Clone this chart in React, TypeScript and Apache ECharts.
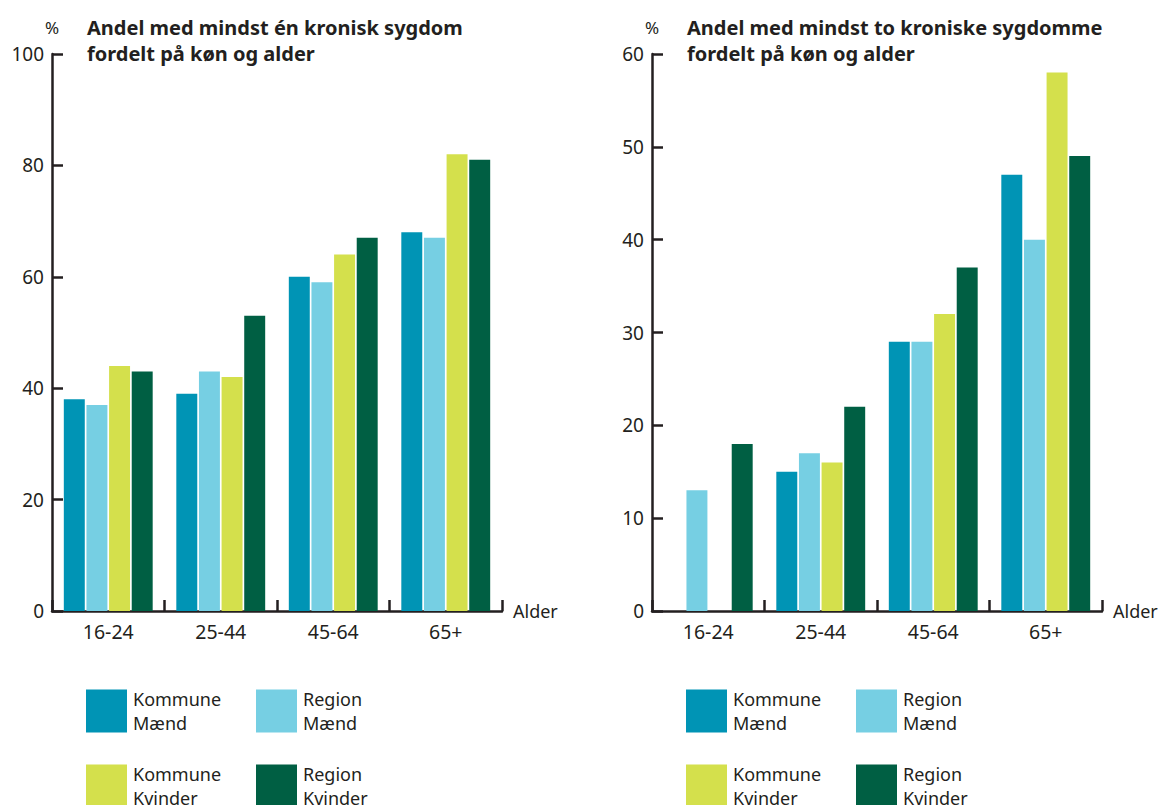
import React, { useEffect, useRef } from "react";
import * as echarts from "echarts";

const categories = ["16-24", "25-44", "45-64", "65+"];
const seriesNames = ["Kommune Mænd", "Region Mænd", "Kommune Kvinder", "Region Kvinder"];
const seriesColors = ["#0094b5", "#76cfe3", "#d4e04c", "#005f43"];

// Left chart: at least one chronic disease (%)
const leftKommuneMaend = [38, 39, 60, 68];
const leftRegionMaend = [37, 43, 59, 67];
const leftKommuneKvinder = [44, 42, 64, 82];
const leftRegionKvinder = [43, 53, 67, 81];

// Right chart: at least two chronic diseases (%)
const rightKommuneMaend = [null, 15, 29, 47];
const rightRegionMaend = [13, 17, 29, 40];
const rightKommuneKvinder = [null, 16, 32, 58];
const rightRegionKvinder = [18, 22, 37, 49];

const leftTitle = "Andel med mindst én kronisk sygdom\nfordelt på køn og alder";
const rightTitle = "Andel med mindst to kroniske sygdomme\nfordelt på køn og alder";
const unitLabel = "%";
const axisName = "Alder";

const leftYMax = 100;
const leftYInterval = 20;
const rightYMax = 60;
const rightYInterval = 10;

const FONT = "'Noto Sans', sans-serif";
const INK = "#231f20";

export default function App() {
  const ref = useRef<HTMLDivElement>(null);

  useEffect(() => {
    document.body.style.margin = "0";
    if (!ref.current) return;
    const chart = echarts.init(ref.current, undefined, { renderer: "svg" });

    const leftData = [leftKommuneMaend, leftRegionMaend, leftKommuneKvinder, leftRegionKvinder];
    const rightData = [rightKommuneMaend, rightRegionMaend, rightKommuneKvinder, rightRegionKvinder];

    const grids = [
      { left: 52, top: 54, width: 450, height: 557 },
      { left: 652, top: 54, width: 450, height: 557 },
    ];

    const makeX = (gridIndex: number) => ({
      type: "category",
      gridIndex,
      data: categories,
      boundaryGap: true,
      name: axisName,
      nameLocation: "end",
      nameGap: 11,
      nameTextStyle: { fontSize: 18, color: INK, fontFamily: FONT, padding: [0, 0, 10, 0] },
      axisLine: { show: true, lineStyle: { color: INK, width: 2.5 } },
      axisTick: { show: true, inside: true, length: 11, lineStyle: { color: INK, width: 2.5 } },
      axisLabel: { fontSize: 19.5, color: INK, fontFamily: FONT, margin: 10, interval: 0 },
      splitLine: { show: false },
    });

    const makeY = (gridIndex: number, max: number, interval: number) => ({
      type: "value",
      gridIndex,
      min: 0,
      max,
      interval,
      axisLine: { show: true, lineStyle: { color: INK, width: 2.5 } },
      axisTick: { show: true, inside: true, length: 11, lineStyle: { color: INK, width: 2.5 } },
      axisLabel: { fontSize: 19, color: INK, fontFamily: FONT, margin: 8 },
      splitLine: { show: false },
    });

    const series: any[] = [];
    leftData.forEach((d, i) => {
      series.push({
        type: "bar",
        name: seriesNames[i],
        xAxisIndex: 0,
        yAxisIndex: 0,
        data: d,
        itemStyle: { color: seriesColors[i] },
        barGap: "8%",
        barCategoryGap: "21%",
      });
    });
    rightData.forEach((d, i) => {
      series.push({
        type: "bar",
        name: seriesNames[i],
        xAxisIndex: 1,
        yAxisIndex: 1,
        data: d,
        itemStyle: { color: seriesColors[i] },
        barGap: "8%",
        barCategoryGap: "21%",
      });
    });

    const legendPos = [
      [86, 687],
      [256, 687],
      [86, 762],
      [256, 762],
    ];
    const legends: any[] = [];
    [0, 600].forEach((dx) => {
      seriesNames.forEach((n, i) => {
        legends.push({
          data: [n],
          left: legendPos[i][0] + dx,
          top: legendPos[i][1],
          padding: 0,
          itemWidth: 41,
          itemHeight: 43,
          icon: "rect",
          itemGap: 0,
          formatter: (name: string) => name.replace(" ", "\n"),
          textStyle: { fontSize: 18, color: INK, fontFamily: FONT, lineHeight: 24, padding: [0, 0, 0, 1] },
        });
      });
    });

    const titleStyle = { fontSize: 20, fontWeight: "bold", color: INK, fontFamily: FONT, lineHeight: 26.5 };
    const unitStyle = { fontSize: 17, fontWeight: "normal", color: INK, fontFamily: FONT, lineHeight: 20 };

    chart.setOption({
      animation: false,
      textStyle: { fontFamily: FONT },
      title: [
        { text: leftTitle, left: 87, top: 14, padding: 0, textStyle: titleStyle },
        { text: rightTitle, left: 687, top: 14, padding: 0, textStyle: titleStyle },
        { text: unitLabel, left: 45, top: 17, padding: 0, textStyle: unitStyle },
        { text: unitLabel, left: 645, top: 17, padding: 0, textStyle: unitStyle },
      ],
      legend: legends,
      grid: grids,
      xAxis: [makeX(0), makeX(1)],
      yAxis: [makeY(0, leftYMax, leftYInterval), makeY(1, rightYMax, rightYInterval)],
      series,
    });

    return () => chart.dispose();
  }, []);

  return <div ref={ref} style={{ width: 1162, height: 805 }} />;
}
